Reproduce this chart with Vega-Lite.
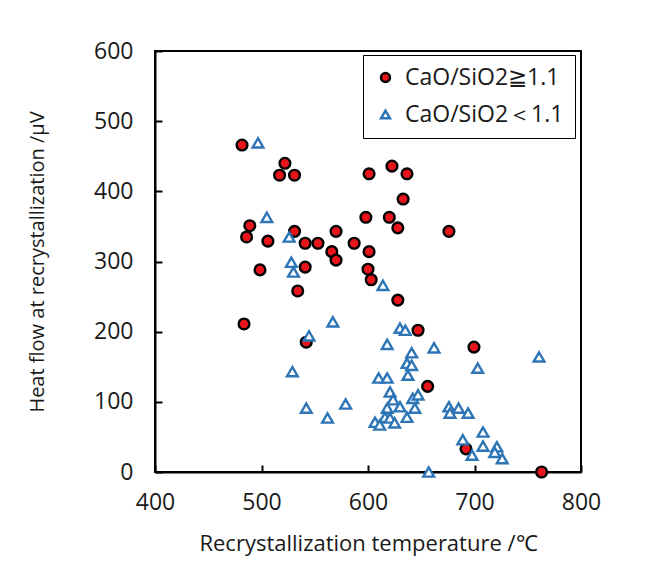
{
  "$schema": "https://vega.github.io/schema/vega-lite/v6.json",
  "width": 426,
  "height": 421,
  "autosize": {"type": "none"},
  "padding": {"left": 155, "top": 51, "right": 64, "bottom": 110},
  "background": "white",
  "config": {
    "font": "Open Sans",
    "view": {"stroke": "black", "strokeWidth": 2},
    "axis": {
      "grid": false,
      "domainColor": "black",
      "domainWidth": 2,
      "tickColor": "black",
      "tickWidth": 2,
      "tickSize": -7,
      "labelFlush": false,
      "labelOverlap": false,
      "labelFont": "Open Sans",
      "labelFontSize": 23,
      "labelColor": "#1a1a1a",
      "titleFont": "Open Sans",
      "titleFontSize": 20,
      "titleFontWeight": "normal",
      "titleColor": "#1a1a1a"
    }
  },
  "data": {
    "values": [
      {"t": 481.7, "h": 466, "g": "CaO/SiO2≧1.1"},
      {"t": 522, "h": 440, "g": "CaO/SiO2≧1.1"},
      {"t": 517, "h": 423, "g": "CaO/SiO2≧1.1"},
      {"t": 531, "h": 423, "g": "CaO/SiO2≧1.1"},
      {"t": 489, "h": 351, "g": "CaO/SiO2≧1.1"},
      {"t": 486, "h": 335, "g": "CaO/SiO2≧1.1"},
      {"t": 506, "h": 329, "g": "CaO/SiO2≧1.1"},
      {"t": 531, "h": 343, "g": "CaO/SiO2≧1.1"},
      {"t": 541, "h": 326, "g": "CaO/SiO2≧1.1"},
      {"t": 553, "h": 326, "g": "CaO/SiO2≧1.1"},
      {"t": 570, "h": 343, "g": "CaO/SiO2≧1.1"},
      {"t": 566, "h": 314, "g": "CaO/SiO2≧1.1"},
      {"t": 570, "h": 302, "g": "CaO/SiO2≧1.1"},
      {"t": 498.6, "h": 288, "g": "CaO/SiO2≧1.1"},
      {"t": 541, "h": 292, "g": "CaO/SiO2≧1.1"},
      {"t": 534, "h": 258, "g": "CaO/SiO2≧1.1"},
      {"t": 601, "h": 425, "g": "CaO/SiO2≧1.1"},
      {"t": 622.5, "h": 436, "g": "CaO/SiO2≧1.1"},
      {"t": 636.6, "h": 425, "g": "CaO/SiO2≧1.1"},
      {"t": 633, "h": 389, "g": "CaO/SiO2≧1.1"},
      {"t": 598, "h": 363, "g": "CaO/SiO2≧1.1"},
      {"t": 620, "h": 363, "g": "CaO/SiO2≧1.1"},
      {"t": 628, "h": 348, "g": "CaO/SiO2≧1.1"},
      {"t": 676, "h": 343, "g": "CaO/SiO2≧1.1"},
      {"t": 587, "h": 326, "g": "CaO/SiO2≧1.1"},
      {"t": 601, "h": 314, "g": "CaO/SiO2≧1.1"},
      {"t": 600, "h": 289, "g": "CaO/SiO2≧1.1"},
      {"t": 603, "h": 274, "g": "CaO/SiO2≧1.1"},
      {"t": 628, "h": 245, "g": "CaO/SiO2≧1.1"},
      {"t": 483.6, "h": 211, "g": "CaO/SiO2≧1.1"},
      {"t": 542, "h": 185, "g": "CaO/SiO2≧1.1"},
      {"t": 647, "h": 202, "g": "CaO/SiO2≧1.1"},
      {"t": 699.5, "h": 178, "g": "CaO/SiO2≧1.1"},
      {"t": 656, "h": 122, "g": "CaO/SiO2≧1.1"},
      {"t": 692, "h": 33, "g": "CaO/SiO2≧1.1"},
      {"t": 763, "h": 0, "g": "CaO/SiO2≧1.1"},
      {"t": 496.7, "h": 469, "g": "CaO/SiO2＜1.1"},
      {"t": 505, "h": 363, "g": "CaO/SiO2＜1.1"},
      {"t": 526, "h": 335, "g": "CaO/SiO2＜1.1"},
      {"t": 528, "h": 299, "g": "CaO/SiO2＜1.1"},
      {"t": 530, "h": 285, "g": "CaO/SiO2＜1.1"},
      {"t": 614, "h": 266, "g": "CaO/SiO2＜1.1"},
      {"t": 567, "h": 214, "g": "CaO/SiO2＜1.1"},
      {"t": 544.6, "h": 194, "g": "CaO/SiO2＜1.1"},
      {"t": 529, "h": 143, "g": "CaO/SiO2＜1.1"},
      {"t": 542, "h": 91, "g": "CaO/SiO2＜1.1"},
      {"t": 562, "h": 77, "g": "CaO/SiO2＜1.1"},
      {"t": 579, "h": 97, "g": "CaO/SiO2＜1.1"},
      {"t": 630, "h": 205, "g": "CaO/SiO2＜1.1"},
      {"t": 635, "h": 202, "g": "CaO/SiO2＜1.1"},
      {"t": 618, "h": 182, "g": "CaO/SiO2＜1.1"},
      {"t": 662, "h": 177, "g": "CaO/SiO2＜1.1"},
      {"t": 641, "h": 170, "g": "CaO/SiO2＜1.1"},
      {"t": 636.6, "h": 155, "g": "CaO/SiO2＜1.1"},
      {"t": 641, "h": 152, "g": "CaO/SiO2＜1.1"},
      {"t": 637.5, "h": 138, "g": "CaO/SiO2＜1.1"},
      {"t": 760.6, "h": 164, "g": "CaO/SiO2＜1.1"},
      {"t": 703, "h": 148, "g": "CaO/SiO2＜1.1"},
      {"t": 610, "h": 134, "g": "CaO/SiO2＜1.1"},
      {"t": 618, "h": 134, "g": "CaO/SiO2＜1.1"},
      {"t": 620.7, "h": 114, "g": "CaO/SiO2＜1.1"},
      {"t": 623.5, "h": 103, "g": "CaO/SiO2＜1.1"},
      {"t": 618, "h": 91, "g": "CaO/SiO2＜1.1"},
      {"t": 630, "h": 93, "g": "CaO/SiO2＜1.1"},
      {"t": 642, "h": 105, "g": "CaO/SiO2＜1.1"},
      {"t": 647, "h": 110, "g": "CaO/SiO2＜1.1"},
      {"t": 644, "h": 91, "g": "CaO/SiO2＜1.1"},
      {"t": 636.6, "h": 78, "g": "CaO/SiO2＜1.1"},
      {"t": 616, "h": 78, "g": "CaO/SiO2＜1.1"},
      {"t": 620.7, "h": 77, "g": "CaO/SiO2＜1.1"},
      {"t": 606.6, "h": 71, "g": "CaO/SiO2＜1.1"},
      {"t": 611, "h": 67, "g": "CaO/SiO2＜1.1"},
      {"t": 625, "h": 70, "g": "CaO/SiO2＜1.1"},
      {"t": 676, "h": 93, "g": "CaO/SiO2＜1.1"},
      {"t": 677, "h": 84, "g": "CaO/SiO2＜1.1"},
      {"t": 685, "h": 91, "g": "CaO/SiO2＜1.1"},
      {"t": 694, "h": 84, "g": "CaO/SiO2＜1.1"},
      {"t": 708, "h": 57, "g": "CaO/SiO2＜1.1"},
      {"t": 689, "h": 46, "g": "CaO/SiO2＜1.1"},
      {"t": 697.7, "h": 24, "g": "CaO/SiO2＜1.1"},
      {"t": 708, "h": 37, "g": "CaO/SiO2＜1.1"},
      {"t": 721, "h": 36, "g": "CaO/SiO2＜1.1"},
      {"t": 719, "h": 28, "g": "CaO/SiO2＜1.1"},
      {"t": 726, "h": 19, "g": "CaO/SiO2＜1.1"},
      {"t": 657, "h": 0, "g": "CaO/SiO2＜1.1"}
    ]
  },
  "mark": {"type": "point", "filled": false, "size": 115, "strokeWidth": 2.4, "opacity": 1, "clip": false},
  "encoding": {
    "x": {
      "field": "t", "type": "quantitative",
      "scale": {"domain": [400, 800], "nice": false, "zero": false},
      "axis": {"values": [400, 500, 600, 700, 800], "title": "Recrystallization temperature /℃", "titleFontSize": 22, "labelPadding": 26, "titlePadding": 19}
    },
    "y": {
      "field": "h", "type": "quantitative",
      "scale": {"domain": [0, 600], "nice": false},
      "axis": {"values": [0, 100, 200, 300, 400, 500, 600], "title": "Heat flow at recrystallization /μV", "labelPadding": 29, "titlePadding": 46}
    },
    "fill": {
      "field": "g", "type": "nominal",
      "scale": {"domain": ["CaO/SiO2≧1.1", "CaO/SiO2＜1.1"], "range": ["#e8141b", "white"]},
      "legend": {
        "title": null,
        "orient": "none",
        "legendX": 208,
        "legendY": 4,
        "strokeColor": "black",
        "fillColor": "white",
        "padding": 11,
        "labelFont": "Open Sans",
        "labelFontSize": 23,
        "labelColor": "#1a1a1a",
        "symbolSize": 80,
        "symbolStrokeWidth": 2.5,
        "rowPadding": 13,
        "labelOffset": 8,
        "symbolOffset": 0,
        "encode": {"legend": {"update": {"strokeWidth": {"value": 1.5}}}}
      }
    },
    "stroke": {
      "field": "g", "type": "nominal",
      "scale": {"domain": ["CaO/SiO2≧1.1", "CaO/SiO2＜1.1"], "range": ["black", "#2e75b6"]}
    },
    "shape": {
      "field": "g", "type": "nominal",
      "scale": {"domain": ["CaO/SiO2≧1.1", "CaO/SiO2＜1.1"], "range": ["circle", "triangle-up"]}
    }
  }
}
